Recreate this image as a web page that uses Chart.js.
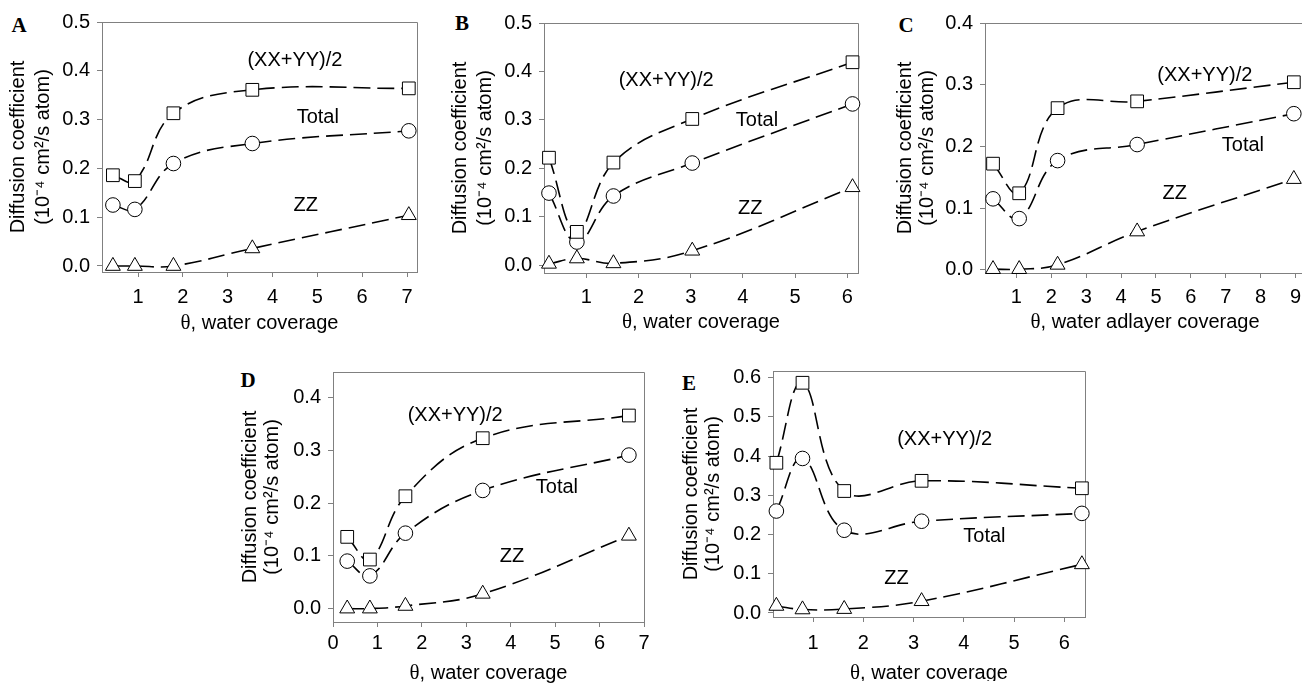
<!DOCTYPE html>
<html>
<head>
<meta charset="utf-8">
<title>Diffusion coefficient vs water coverage</title>
<script src="https://cdn.jsdelivr.net/npm/chart.js@4.4.1/dist/chart.umd.min.js"></script>
<style>
  html, body { margin: 0; padding: 0; background: #fff; }
  body { width: 1302px; height: 685px; position: relative; overflow: hidden; }
  canvas { position: absolute; }
  .panel-letter { position: absolute; transform: translate(-50%, -50%); font: bold 21px "Liberation Serif", "Times New Roman", serif; color: #000; }
</style>
</head>
<body>
<div class="panel-letter" style="left:19px;top:25px">A</div>
<div class="panel-letter" style="left:462px;top:23px">B</div>
<div class="panel-letter" style="left:906px;top:25px">C</div>
<div class="panel-letter" style="left:248px;top:380px">D</div>
<div class="panel-letter" style="left:689px;top:383px">E</div>
<script>
// values, one set of arrays per panel
const seriesNames = ['(XX+YY)/2', 'Total', 'ZZ'];

const thetaA = [0.44, 0.93, 1.79, 3.55, 7.04];
const xxyyA  = [0.186, 0.174, 0.313, 0.361, 0.364];
const totalA = [0.125, 0.116, 0.210, 0.251, 0.277];
const zzA    = [0.0, 0.0, 0.0, 0.036, 0.104];
const labelXA = [4.50, 5.01, 4.74];
const labelYA = [0.422, 0.305, 0.125];

const thetaB = [0.285, 0.82, 1.52, 3.03, 6.10];
const xxyyB  = [0.222, 0.069, 0.212, 0.302, 0.419];
const totalB = [0.149, 0.048, 0.143, 0.211, 0.333];
const zzB    = [0.003, 0.014, 0.004, 0.030, 0.161];
const labelXB = [2.53, 4.27, 4.14];
const labelYB = [0.381, 0.298, 0.118];

const thetaC = [0.33, 1.08, 2.18, 4.46, 8.95];
const xxyyC  = [0.172, 0.124, 0.262, 0.273, 0.304];
const totalC = [0.115, 0.083, 0.177, 0.203, 0.253];
const zzC    = [0.001, 0.001, 0.008, 0.062, 0.147];
const labelXC = [6.40, 7.49, 5.54];
const labelYC = [0.315, 0.201, 0.123];

const thetaD = [0.32, 0.83, 1.63, 3.37, 6.66];
const xxyyD  = [0.136, 0.093, 0.213, 0.323, 0.366];
const totalD = [0.090, 0.062, 0.143, 0.224, 0.291];
const zzD    = [0.0, 0.0, 0.005, 0.028, 0.138];
const labelXD = [2.75, 5.04, 4.03];
const labelYD = [0.366, 0.229, 0.098];

const thetaE = [0.27, 0.79, 1.62, 3.16, 6.35];
const xxyyE  = [0.383, 0.587, 0.311, 0.337, 0.318];
const totalE = [0.260, 0.394, 0.211, 0.234, 0.254];
const zzE    = [0.018, 0.009, 0.010, 0.030, 0.124];
const labelXE = [3.62, 4.41, 2.66];
const labelYE = [0.443, 0.194, 0.088];

(function(){
    const AXIS_GRAY = '#808080';
    const SANS = '"Liberation Sans", Arial, Helvetica, sans-serif';
    const SERIF = '"Liberation Serif", "Times New Roman", serif';
    const Y_AXIS_W = 100;
    const X_AXIS_H = 64;
    const PAD_RIGHT = 18;

    Chart.defaults.font.family = SANS;
    Chart.defaults.font.size = 20;
    Chart.defaults.color = '#000';

    // plot rectangles are [left, top, right, bottom] in page pixels
    const panels = [
        { id: 'A', rect: [102, 22, 417, 272], xMin: 0.197, xMax: 7.223, yMin: -0.0123, yMax: 0.5,
          theta: thetaA, xxyy: xxyyA, total: totalA, zz: zzA, labelX: labelXA, labelY: labelYA,
          xTitle: 'water coverage', tickPad: 8, titleOff: 51, yLine: 25, yPad: 3.5 },
        { id: 'B', rect: [544, 23, 858, 273], xMin: 0.19, xMax: 6.205, yMin: -0.0159, yMax: 0.5,
          theta: thetaB, xxyy: xxyyB, total: totalB, zz: zzB, labelX: labelXB, labelY: labelYB,
          xTitle: 'water coverage', tickPad: 7, titleOff: 49.5, yLine: 25, yPad: 4.2 },
        { id: 'C', rect: [985, 23, 1305, 273], xMin: 0.1, xMax: 9.27, yMin: -0.0052, yMax: 0.4,
          theta: thetaC, xxyy: xxyyC, total: totalC, zz: zzC, labelX: labelXC, labelY: labelYC,
          xTitle: 'water adlayer coverage', tickPad: 7, titleOff: 49.5, yLine: 22, yPad: 9 },
        { id: 'D', rect: [333, 372, 644, 622], xMin: 0, xMax: 7, yMin: -0.0254, yMax: 0.4485,
          theta: thetaD, xxyy: xxyyD, total: totalD, zz: zzD, labelX: labelXD, labelY: labelYD,
          xTitle: 'water coverage', tickPad: 4.6, titleOff: 51, yLine: 22, yPad: 6 },
        { id: 'E', rect: [773, 371, 1085, 617], xMin: 0.203, xMax: 6.412, yMin: -0.0102, yMax: 0.617,
          theta: thetaE, xxyy: xxyyE, total: totalE, zz: zzE, labelX: labelXE, labelY: labelYE,
          xTitle: 'water coverage', tickPad: 9.7, titleOff: 56, yLine: 22, yPad: 7.7 },
    ];

    // frame on top/right, in-plot series labels and the x title with a serif theta
    const panelDecor = {
        id: 'panelDecor',
        beforeDatasetsDraw(chart) {
            const { ctx, chartArea: a } = chart;
            ctx.save();
            ctx.strokeStyle = AXIS_GRAY;
            ctx.lineWidth = 1;
            ctx.beginPath();
            ctx.moveTo(a.left, Math.round(a.top) + 0.5);
            ctx.lineTo(Math.round(a.right) + 0.5, Math.round(a.top) + 0.5);
            ctx.lineTo(Math.round(a.right) + 0.5, a.bottom);
            ctx.stroke();
            ctx.restore();
        },
        afterDraw(chart, args, opts) {
            const { ctx, chartArea: a, scales } = chart;
            ctx.save();
            ctx.fillStyle = '#000';
            ctx.textAlign = 'center';
            ctx.textBaseline = 'middle';
            ctx.font = '20px ' + SANS;
            seriesNames.forEach((name, i) => {
                ctx.fillText(name, scales.x.getPixelForValue(opts.labelX[i]), scales.y.getPixelForValue(opts.labelY[i]));
            });

            const rest = ', ' + opts.xTitle;
            ctx.font = '21px ' + SERIF;
            const w1 = ctx.measureText('\u03B8').width;
            ctx.font = '20px ' + SANS;
            const w2 = ctx.measureText(rest).width;
            const x0 = (a.left + a.right) / 2 - (w1 + w2) / 2;
            const ty = a.bottom + opts.titleOff;
            ctx.textAlign = 'left';
            ctx.font = '21px ' + SERIF;
            ctx.fillText('\u03B8', x0, ty);
            ctx.font = '20px ' + SANS;
            ctx.fillText(rest, x0 + w1, ty);
            ctx.restore();
        }
    };

    function series(name, xs, ys, shape, radius) {
        return {
            label: name,
            data: xs.map((x, i) => ({ x: x, y: ys[i] })),
            borderColor: '#000',
            borderWidth: 1.6,
            borderDash: [17, 7],
            tension: 0.4,
            fill: false,
            clip: false,
            pointStyle: shape,
            pointRadius: radius,
            pointBackgroundColor: '#fff',
            pointBorderColor: '#000',
            pointBorderWidth: 1,
        };
    }

    panels.forEach(p => {
        try {
            const [l, t, r, b] = p.rect;
            const canvas = document.createElement('canvas');
            canvas.id = 'panel' + p.id;
            canvas.width = (r - l) + Y_AXIS_W + PAD_RIGHT;
            canvas.height = 20 + (b - t) + X_AXIS_H;
            canvas.style.left = (l - Y_AXIS_W) + 'px';
            canvas.style.top = (t - 20) + 'px';
            document.body.appendChild(canvas);

            new Chart(canvas, {
                type: 'line',
                data: {
                    datasets: [
                        series(seriesNames[0], p.theta, p.xxyy, 'rect', 9),
                        series(seriesNames[1], p.theta, p.total, 'circle', 7.3),
                        series(seriesNames[2], p.theta, p.zz, 'triangle', 8.6),
                    ]
                },
                options: {
                    responsive: false,
                    animation: false,
                    devicePixelRatio: 1,
                    events: [],
                    layout: { padding: { top: 20, right: PAD_RIGHT, left: 0, bottom: 0 } },
                    plugins: {
                        legend: { display: false },
                        tooltip: { enabled: false },
                        panelDecor: { labelX: p.labelX, labelY: p.labelY, xTitle: p.xTitle, titleOff: p.titleOff }
                    },
                    scales: {
                        x: {
                            type: 'linear',
                            min: p.xMin, max: p.xMax,
                            afterFit: s => { s.height = X_AXIS_H; },
                            grid: { drawOnChartArea: false, drawTicks: true, tickLength: 5, color: AXIS_GRAY },
                            border: { display: true, color: AXIS_GRAY, width: 1 },
                            ticks: { stepSize: 1, includeBounds: false, autoSkip: false, maxRotation: 0, padding: p.tickPad, color: '#000', font: { size: 20 } }
                        },
                        y: {
                            type: 'linear',
                            min: p.yMin, max: p.yMax,
                            afterFit: s => { s.width = Y_AXIS_W; },
                            grid: { drawOnChartArea: false, drawTicks: true, tickLength: 5, color: AXIS_GRAY },
                            border: { display: true, color: AXIS_GRAY, width: 1 },
                            ticks: { stepSize: 0.1, includeBounds: false, autoSkip: false, padding: 7, color: '#000', font: { size: 20 },
                                     callback: v => Number(v).toFixed(1) },
                            title: {
                                display: true,
                                text: ['Diffusion coefficient', '(10\u207B\u2074 cm\u00B2/s atom)'],
                                color: '#000',
                                font: { size: 20, lineHeight: p.yLine / 20 },
                                padding: { top: p.yPad, bottom: 0 }
                            }
                        }
                    }
                },
                plugins: [panelDecor]
            });
        } catch (e) {
            console.error('Failed to render panel ' + p.id, e);
        }
    });
})();
</script>
</body>
</html>
